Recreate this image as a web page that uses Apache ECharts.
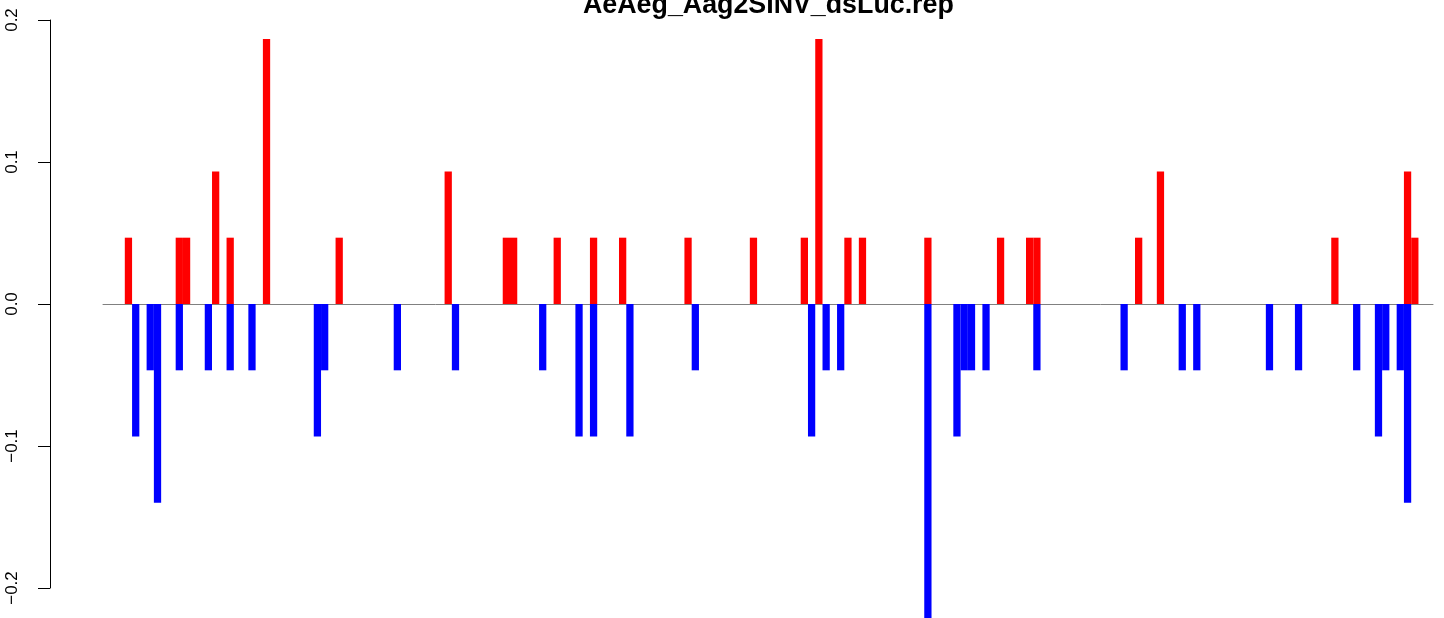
<!DOCTYPE html>
<html>
<head>
<meta charset="utf-8">
<script src="https://cdn.jsdelivr.net/npm/echarts@6/dist/echarts.min.js"></script>
<style>
html,body{margin:0;padding:0;background:#fff;}
#chart{width:1444px;height:618px;}
</style>
</head>
<body>
<div id="chart"></div>
<script>
// ---- data ----
const titleText = 'AeAeg_Aag2SINV_dsLuc.rep';
const firstPos = -3;
const lastPos = 179;
const upSlots   = [0, 7, 8, 12, 14, 19, 29, 44, 52, 53, 59, 64, 68, 77, 86, 93, 95, 99, 101, 110, 120, 124, 125, 139, 142, 166, 176, 177];
const upValues  = [0.0467, 0.0467, 0.0467, 0.0933, 0.0467, 0.1867, 0.0467, 0.0933, 0.0467, 0.0467, 0.0467, 0.0467, 0.0467, 0.0467, 0.0467, 0.0467, 0.1867, 0.0467, 0.0467, 0.0467, 0.0467, 0.0467, 0.0467, 0.0467, 0.0933, 0.0467, 0.0933, 0.0467];
const downSlots = [1, 3, 4, 7, 11, 14, 17, 26, 27, 37, 45, 57, 62, 64, 69, 78, 94, 96, 98, 110, 114, 115, 116, 118, 125, 137, 145, 147, 157, 161, 169, 172, 173, 175, 176];
const downValues= [-0.0933, -0.0467, -0.14, -0.0467, -0.0467, -0.0467, -0.0467, -0.0933, -0.0467, -0.0467, -0.0467, -0.0467, -0.0933, -0.0933, -0.0933, -0.0467, -0.0933, -0.0467, -0.0467, -0.2333, -0.0933, -0.0467, -0.0467, -0.0467, -0.0467, -0.0467, -0.0467, -0.0467, -0.0467, -0.0467, -0.0467, -0.0933, -0.0467, -0.0467, -0.14];
const yTicks = [-0.2, -0.1, 0.0, 0.1, 0.2];

// categories: every slot position along the x axis
const positions = [];
for (let p = firstPos; p <= lastPos; p++) positions.push(p);

const upData = upSlots.map((s, i) => [positions.indexOf(s), upValues[i]]);
const downData = downSlots.map((s, i) => [positions.indexOf(s), downValues[i]]);

const FONT = '"Liberation Sans", Arial, Helvetica, sans-serif';
const chart = echarts.init(document.getElementById('chart'), null, {renderer: 'canvas'});
chart.setOption({
  animation: false,
  backgroundColor: '#ffffff',
  title: {
    text: titleText,
    left: 583,
    top: -8,
    padding: 0,
    textStyle: {fontFamily: FONT, fontSize: 26.8, fontWeight: 'bold', color: '#000', lineHeight: 27}
  },
  grid: {left: 103, right: 11, top: 20, bottom: 30, containLabel: false},
  xAxis: {
    type: 'category',
    data: positions,
    boundaryGap: true,
    axisLine: {show: true, onZero: true, lineStyle: {color: '#808080', width: 1}},
    axisTick: {show: false},
    axisLabel: {show: false},
    splitLine: {show: false}
  },
  yAxis: {
    type: 'value',
    min: yTicks[0],
    max: yTicks[yTicks.length - 1],
    interval: 0.1,
    offset: 53,
    axisLine: {show: true, lineStyle: {color: '#000', width: 1}},
    axisTick: {show: true, length: 12, lineStyle: {color: '#000', width: 1}},
    splitLine: {show: false},
    axisLabel: {
      rotate: 90,
      margin: 29,
      color: '#000',
      fontFamily: FONT,
      fontSize: 17,
      formatter: v => (Math.abs(v) < 1e-9 ? '0.0' : v.toFixed(1).replace('-', '\u2212'))
    }
  },
  series: [
    {
      type: 'bar', name: 'up', data: upData,
      itemStyle: {color: '#ff0000'},
      barCategoryGap: '0%', barGap: '-100%', clip: false, z: 2
    },
    {
      type: 'bar', name: 'down', data: downData,
      itemStyle: {color: '#0000ff'},
      barCategoryGap: '0%', barGap: '-100%', clip: false, z: 2
    }
  ]
});
</script>
</body>
</html>
